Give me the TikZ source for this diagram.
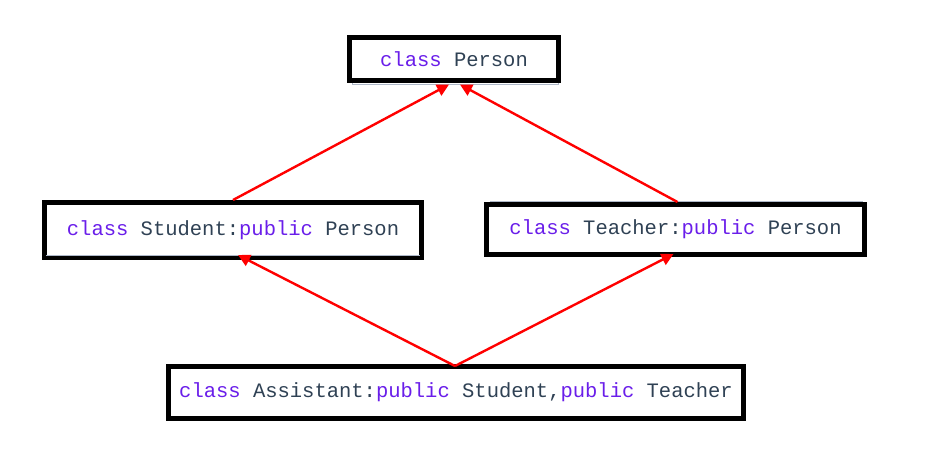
\documentclass[tikz,border=0pt]{standalone}
\usepackage{fontspec}
\usepackage{tikz}
\usetikzlibrary{arrows.meta}
\newfontfamily\codefont{Liberation Mono}
\definecolor{kwcolor}{HTML}{6A1EEA}
\definecolor{idcolor}{HTML}{2F4154}
\definecolor{edgegrey}{HTML}{AEB8C8}
\newcommand{\kw}[1]{\textcolor{kwcolor}{#1}}

\begin{document}
\begin{tikzpicture}[
    x=1pt, y=-1pt, % pixel-like units, y grows downwards
    every node/.style={
        draw, % thick black frame
        line width=5pt,
        fill=white,
        inner sep=0pt,
        text=idcolor,
        font=\codefont\fontsize{20.5}{24}\selectfont
    },
    inherit/.style={draw=red, line width=2.4pt, -{Triangle[length=12pt,width=12pt]}}, % red arrows
    ghost/.style={draw=edgegrey, line width=1pt} % faint lines of the panels behind
]
\useasboundingbox (0,0) rectangle (927,459);

% faint panel edges
\draw[ghost] (352,60) -- (352,84) -- (558,84) -- (558,60);
\draw[ghost] (490,225) -- (490,201) -- (862,201) -- (862,225);

\node[minimum width=209pt, minimum height=43pt] (person) at (454,59) {\kw{class} Person};
\node[minimum width=377pt, minimum height=55pt] (student) at (233,230) {\kw{class} Student:\kw{public} Person};
\node[minimum width=378pt, minimum height=50pt] (teacher) at (675.5,229.5) {\kw{class} Teacher:\kw{public} Person};
\node[minimum width=575pt, minimum height=52pt] (assistant) at (456,392.5) {\kw{class} Assistant:\kw{public} Student,\kw{public} Teacher};

\draw[ghost] ([xshift=4pt,yshift=5pt]student.south west) -- ([xshift=-4pt,yshift=5pt]student.south east);

\draw[inherit] (student.north) -- ([xshift=-5pt,yshift=-1.5pt]person.south);
\draw[inherit] ([xshift=2pt]teacher.north) -- ([xshift=6pt,yshift=-1.5pt]person.south);
\draw[inherit] ([xshift=-1pt,yshift=-2pt]assistant.north) -- ([xshift=5pt,yshift=5pt]student.south);
\draw[inherit] ([xshift=-1pt,yshift=-2pt]assistant.north) -- ([xshift=-2pt,yshift=3pt]teacher.south);
\end{tikzpicture}
\end{document}
